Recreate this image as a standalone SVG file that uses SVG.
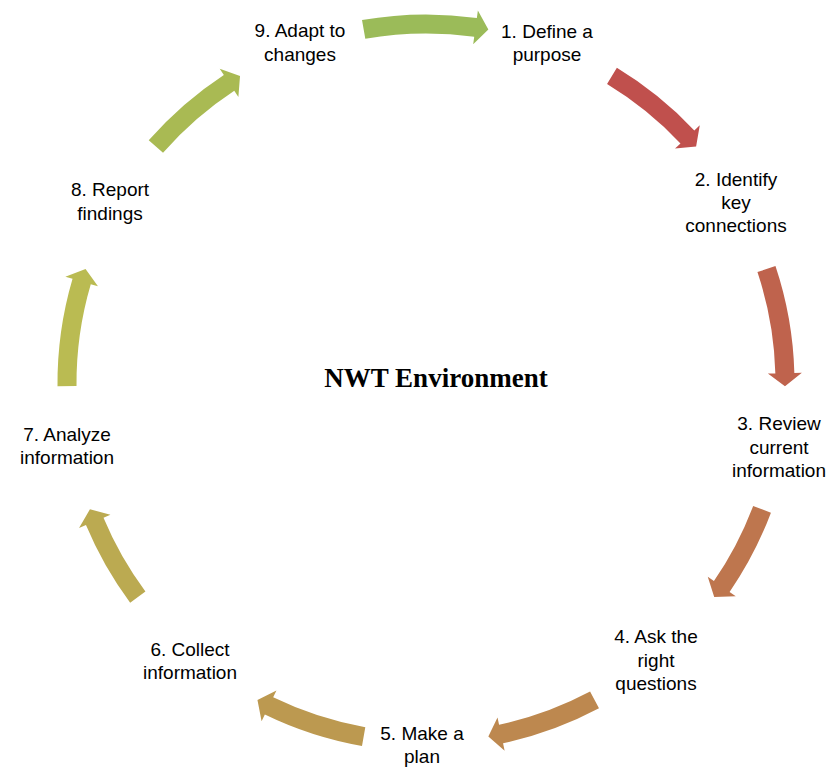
<svg xmlns="http://www.w3.org/2000/svg" xmlns:xlink="http://www.w3.org/1999/xlink" width="832" height="769" viewBox="0 0 832 769">
<style>
.lbl{font-family:"Liberation Sans",Arial,sans-serif;font-size:19px;fill:#000;text-anchor:middle}
.title{font-family:"Liberation Serif","Times New Roman",serif;font-size:27px;font-weight:bold;fill:#000;text-anchor:middle}
</style>
<defs>
<path id="arrA" d="M -63.99 -362.90 A 368.5 368.5 0 0 1 50.85 -364.98 L 51.88 -372.41 L 62.34 -353.55 L 47.19 -338.73 L 48.22 -346.16 A 349.5 349.5 0 0 0 -60.69 -344.19 Z"/>
<path id="arrB" d="M -56.38 -364.16 A 368.5 368.5 0 0 1 43.18 -365.96 L 44.06 -373.41 L 54.92 -354.77 L 40.08 -339.64 L 40.96 -347.09 A 349.5 349.5 0 0 0 -53.47 -345.39 Z"/>
<path id="arrC" d="M -60.82 -363.45 A 368.5 368.5 0 0 1 47.65 -365.40 L 48.62 -372.84 L 59.25 -354.08 L 44.22 -339.13 L 45.19 -346.56 A 349.5 349.5 0 0 0 -57.69 -344.71 Z"/>
<path id="arrD" d="M -51.29 -364.91 A 368.5 368.5 0 0 1 38.07 -366.53 L 38.84 -373.99 L 49.96 -355.51 L 35.33 -340.17 L 36.11 -347.63 A 349.5 349.5 0 0 0 -48.64 -346.10 Z"/>
<path id="arrE" d="M -57.64 -363.96 A 368.5 368.5 0 0 1 44.46 -365.81 L 45.37 -373.25 L 56.16 -354.58 L 41.27 -339.50 L 42.17 -346.94 A 349.5 349.5 0 0 0 -54.67 -345.20 Z"/>
</defs>
<rect width="832" height="769" fill="#fff"/>
<g id="connectors">
<use xlink:href="#arrB" transform="translate(426,383) rotate(40)" fill="#C0504D"/>
<use xlink:href="#arrC" transform="translate(426,383) rotate(81)" fill="#BF634D"/>
<use xlink:href="#arrD" transform="translate(426,383) rotate(118.6)" fill="#BE764E"/>
<use xlink:href="#arrE" transform="translate(426,383) rotate(161)" fill="#BD884F"/>
<use xlink:href="#arrE" transform="translate(426,383) rotate(199)" fill="#BC9950"/>
<use xlink:href="#arrD" transform="translate(426,383) rotate(241.4)" fill="#BBAA51"/>
<use xlink:href="#arrC" transform="translate(426,383) rotate(279)" fill="#BABB52"/>
<use xlink:href="#arrB" transform="translate(426,383) rotate(320)" fill="#A9BA53"/>
<use xlink:href="#arrA" transform="translate(426,383) rotate(0)" fill="#9BBB59"/>
</g>
<g id="title"><text class="title" x="436" y="387">NWT Environment</text></g>
<g id="node1"><text class="lbl" x="547" y="38">1. Define a</text><text class="lbl" x="547" y="61">purpose</text></g>
<g id="node2"><text class="lbl" x="736" y="186">2. Identify</text><text class="lbl" x="736" y="209">key</text><text class="lbl" x="736" y="232">connections</text></g>
<g id="node3"><text class="lbl" x="779" y="430">3. Review</text><text class="lbl" x="779" y="454">current</text><text class="lbl" x="779" y="477">information</text></g>
<g id="node4"><text class="lbl" x="656" y="643">4. Ask the</text><text class="lbl" x="656" y="667">right</text><text class="lbl" x="656" y="690">questions</text></g>
<g id="node5"><text class="lbl" x="422" y="740">5. Make a</text><text class="lbl" x="422" y="763">plan</text></g>
<g id="node6"><text class="lbl" x="190" y="656">6. Collect</text><text class="lbl" x="190" y="679">information</text></g>
<g id="node7"><text class="lbl" x="67" y="441">7. Analyze</text><text class="lbl" x="67" y="464">information</text></g>
<g id="node8"><text class="lbl" x="110" y="196">8. Report</text><text class="lbl" x="110" y="220">findings</text></g>
<g id="node9"><text class="lbl" x="300" y="37">9. Adapt to</text><text class="lbl" x="300" y="61">changes</text></g>
</svg>
